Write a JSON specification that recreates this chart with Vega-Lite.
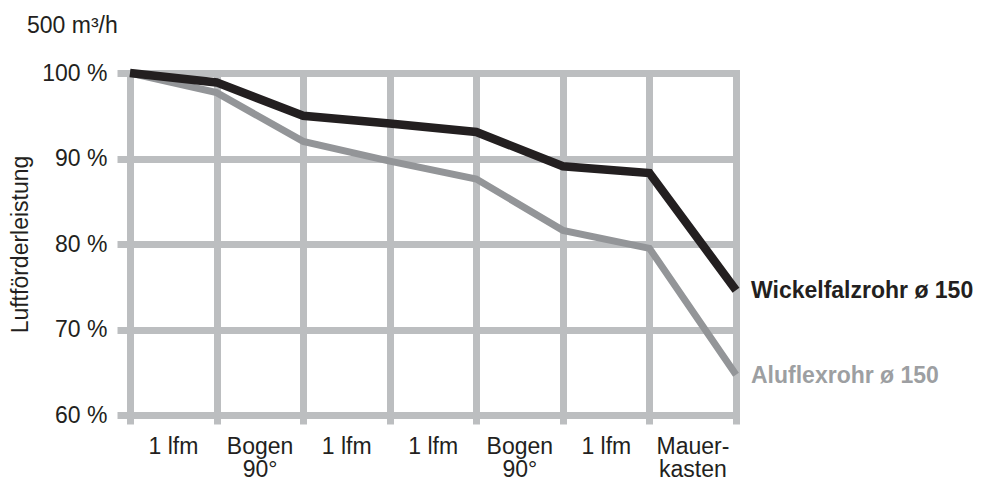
{
  "$schema": "https://vega.github.io/schema/vega-lite/v6.json",
  "width": 606,
  "height": 342,
  "autosize": {"type": "none"},
  "padding": {"left": 130, "top": 73, "right": 247, "bottom": 68},
  "background": "white",
  "config": {
    "view": {"stroke": null},
    "font": "Liberation Sans",
    "text": {"font": "Liberation Sans"}
  },
  "title": {
    "text": "500 m³/h",
    "anchor": "start",
    "frame": "group",
    "orient": "top",
    "dx": -103,
    "offset": 18,
    "font": "Liberation Sans",
    "fontSize": 23,
    "fontWeight": "normal",
    "color": "#231f20"
  },
  "data": {
    "values": [
      {"pos": 0, "series": "Wickelfalzrohr ø 150", "value": 100},
      {"pos": 1, "series": "Wickelfalzrohr ø 150", "value": 98.9},
      {"pos": 2, "series": "Wickelfalzrohr ø 150", "value": 95.0},
      {"pos": 3, "series": "Wickelfalzrohr ø 150", "value": 94.1},
      {"pos": 4, "series": "Wickelfalzrohr ø 150", "value": 93.1},
      {"pos": 5, "series": "Wickelfalzrohr ø 150", "value": 89.1},
      {"pos": 6, "series": "Wickelfalzrohr ø 150", "value": 88.3},
      {"pos": 7, "series": "Wickelfalzrohr ø 150", "value": 74.6},
      {"pos": 0, "series": "Aluflexrohr ø 150", "value": 100},
      {"pos": 1, "series": "Aluflexrohr ø 150", "value": 97.7},
      {"pos": 2, "series": "Aluflexrohr ø 150", "value": 92.0},
      {"pos": 3, "series": "Aluflexrohr ø 150", "value": 89.7},
      {"pos": 4, "series": "Aluflexrohr ø 150", "value": 87.6},
      {"pos": 5, "series": "Aluflexrohr ø 150", "value": 81.6},
      {"pos": 6, "series": "Aluflexrohr ø 150", "value": 79.5},
      {"pos": 7, "series": "Aluflexrohr ø 150", "value": 64.7}
    ]
  },
  "encoding": {
    "x": {
      "field": "pos",
      "type": "quantitative",
      "scale": {"domain": [0, 7], "nice": false, "zero": false},
      "axis": {
        "title": null,
        "values": [0, 1, 2, 3, 4, 5, 6, 7],
        "domain": false,
        "grid": true,
        "gridColor": "#bcbec0",
        "gridWidth": 7,
        "gridCap": "square",
        "gridOpacity": 1,
        "ticks": true,
        "tickSize": 9,
        "tickWidth": 7,
        "tickColor": "#bcbec0",
        "labelOffset": 43,
        "labelPadding": 11,
        "labelFont": "Liberation Sans",
        "labelFontSize": 23,
        "labelColor": "#231f20",
        "labelLineHeight": 23,
        "labelOverlap": false,
        "labelBound": false,
        "labelFlush": false,
        "labelExpr": "datum.value == 1 || datum.value == 4 ? ['Bogen', '90°'] : datum.value == 6 ? ['Mauer-', 'kasten'] : datum.value == 7 ? '' : '1 lfm'"
      }
    },
    "y": {
      "field": "value",
      "type": "quantitative",
      "scale": {"domain": [60, 100], "nice": false, "zero": false},
      "axis": {
        "title": "Luftförderleistung",
        "titleFont": "Liberation Sans",
        "titleFontSize": 23,
        "titleFontWeight": "normal",
        "titleColor": "#231f20",
        "titlePadding": 9,
        "values": [60, 70, 80, 90, 100],
        "domain": false,
        "grid": true,
        "gridColor": "#bcbec0",
        "gridWidth": 7,
        "gridCap": "square",
        "gridOpacity": 1,
        "ticks": true,
        "tickSize": 13,
        "tickWidth": 7,
        "tickColor": "#bcbec0",
        "labelPadding": 10,
        "labelFont": "Liberation Sans",
        "labelFontSize": 23,
        "labelColor": "#231f20",
        "labelExpr": "datum.value + ' %'"
      }
    }
  },
  "layer": [
    {
      "transform": [{"filter": "datum.series == 'Aluflexrohr ø 150'"}],
      "mark": {"type": "line", "color": "#939598", "strokeWidth": 7, "strokeJoin": "miter", "strokeCap": "butt", "clip": false}
    },
    {
      "transform": [{"filter": "datum.series == 'Wickelfalzrohr ø 150'"}],
      "mark": {"type": "line", "color": "#231f20", "strokeWidth": 8.5, "strokeJoin": "miter", "strokeCap": "butt", "clip": false}
    },
    {
      "transform": [{"filter": "datum.pos == 7"}],
      "mark": {"type": "text", "align": "left", "baseline": "middle", "dx": 15, "dy": 1, "fontSize": 23, "fontWeight": "bold", "font": "Liberation Sans", "clip": false},
      "encoding": {
        "text": {"field": "series"},
        "color": {
          "field": "series",
          "type": "nominal",
          "scale": {"domain": ["Wickelfalzrohr ø 150", "Aluflexrohr ø 150"], "range": ["#231f20", "#9d9fa2"]},
          "legend": null
        }
      }
    }
  ]
}
